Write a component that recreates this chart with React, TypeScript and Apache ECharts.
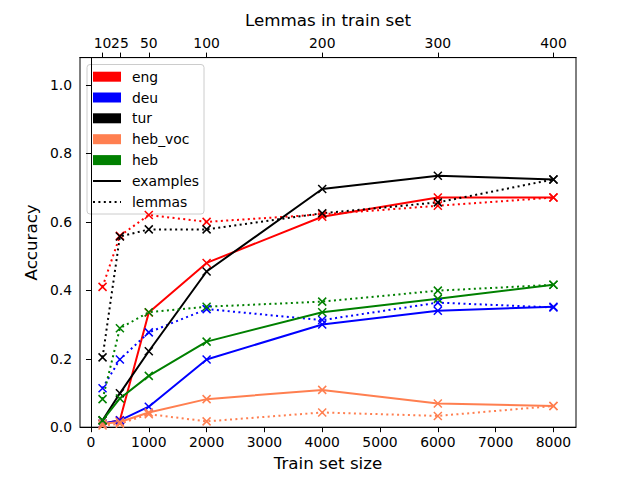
import React, { useEffect, useRef } from "react";
import * as echarts from "echarts";

const trainSizes = [200, 500, 1000, 2000, 4000, 6000, 8000];
const bottomTicks = [0, 1000, 2000, 3000, 4000, 5000, 6000, 7000, 8000];
const lemmaTickLabels = ["10", "25", "50", "100", "200", "300", "400"];
const yTicks = [0, 0.2, 0.4, 0.6, 0.8, 1.0];

const languages = ["eng", "deu", "tur", "heb_voc", "heb"];
const langColors = ["#ff0000", "#0000ff", "#000000", "#ff7f50", "#008000"];

const engExamples = [0.01, 0.02, 0.335, 0.48, 0.615, 0.671, 0.671];
const engLemmas = [0.41, 0.559, 0.62, 0.6, 0.622, 0.647, 0.671];
const deuExamples = [0.01, 0.02, 0.06, 0.198, 0.3, 0.34, 0.352];
const deuLemmas = [0.114, 0.198, 0.277, 0.345, 0.313, 0.364, 0.35];
const turExamples = [0.02, 0.099, 0.222, 0.455, 0.696, 0.735, 0.724];
const turLemmas = [0.204, 0.557, 0.578, 0.578, 0.625, 0.657, 0.724];
const hebVocExamples = [0.01, 0.015, 0.043, 0.082, 0.109, 0.069, 0.062];
const hebVocLemmas = [0.005, 0.01, 0.038, 0.017, 0.043, 0.033, 0.062];
const hebExamples = [0.02, 0.084, 0.15, 0.25, 0.336, 0.375, 0.416];
const hebLemmas = [0.082, 0.289, 0.336, 0.352, 0.367, 0.399, 0.416];

const examplesByLang = [engExamples, deuExamples, turExamples, hebVocExamples, hebExamples];
const lemmasByLang = [engLemmas, deuLemmas, turLemmas, hebVocLemmas, hebLemmas];

const FONT = "DejaVu Sans";
const X_SYMBOL = "path://M0,0 L10,10 M10,0 L0,10";

function makeSeries(name: string, values: number[], color: string, dotted: boolean) {
  return {
    name,
    type: "line",
    xAxisIndex: 0,
    yAxisIndex: 0,
    data: trainSizes.map((x, i) => [x, values[i]]),
    symbol: X_SYMBOL,
    symbolSize: 8,
    showSymbol: true,
    lineStyle: { color, width: 2, type: dotted ? [2, 3.4] : "solid" },
    itemStyle: { color, borderColor: color, borderWidth: 1.5 },
    emphasis: { disabled: true },
  };
}

export default function App() {
  const ref = useRef<HTMLDivElement>(null);
  useEffect(() => {
    if (!ref.current) return;
    const chart = echarts.init(ref.current, null, { renderer: "svg" });
    const series: any[] = [];
    languages.forEach((lang, i) => {
      series.push(makeSeries(lang + " examples", examplesByLang[i], langColors[i], false));
      series.push(makeSeries(lang + " lemmas", lemmasByLang[i], langColors[i], true));
    });

    const legendItems: any[] = [];
    const lx = 93;
    const rowY = [76.7, 97.5, 118.3, 139.2, 160.1, 181, 201.9];
    languages.forEach((lang, i) => {
      legendItems.push({
        type: "rect",
        shape: { x: lx, y: rowY[i] - 5, width: 28, height: 10 },
        style: { fill: langColors[i] },
      });
      legendItems.push({
        type: "text",
        x: 132,
        y: rowY[i],
        style: { text: lang, fill: "#000", font: `13.9px "${FONT}"`, verticalAlign: "middle" },
      });
    });
    ["examples", "lemmas"].forEach((label, j) => {
      const y = rowY[5 + j];
      legendItems.push({
        type: "line",
        shape: { x1: lx, y1: y, x2: lx + 28, y2: y },
        style: { stroke: "#000", lineWidth: 2, lineDash: j === 1 ? [2, 3.4] : null },
      });
      legendItems.push({
        type: "text",
        x: 132,
        y,
        style: { text: label, fill: "#000", font: `13.9px "${FONT}"`, verticalAlign: "middle" },
      });
    });

    const axisCommon = {
      type: "value",
      min: -190,
      max: 8390,
      axisLine: { show: true, lineStyle: { color: "#000", width: 1 } },
      splitLine: { show: false },
    };

    // split top ticks into two axes so neighbouring labels (10, 25) are both drawn
    const topA = trainSizes.filter((_, i) => i % 2 === 0);
    const topB = trainSizes.filter((_, i) => i % 2 === 1);
    const topLabel = (v: number) => {
      const idx = trainSizes.indexOf(v);
      return idx >= 0 ? lemmaTickLabels[idx] : "";
    };
    const topAxis = (vals: number[], withName: boolean) => ({
      ...axisCommon,
      position: "top",
      name: withName ? "Lemmas in train set" : "",
      nameLocation: "middle",
      nameGap: 29,
      nameTextStyle: { fontSize: 16.7, color: "#000", fontFamily: FONT },
      axisTick: { show: true, inside: false, length: 5, lineStyle: { color: "#000" }, customValues: vals },
      axisLabel: {
        color: "#000",
        fontSize: 13.9,
        fontFamily: FONT,
        margin: 8,
        interval: 0,
        hideOverlap: false,
        showMinLabel: true,
        showMaxLabel: true,
        customValues: vals,
        formatter: topLabel,
      },
    });

    chart.setOption({
      animation: false,
      backgroundColor: "#fff",
      textStyle: { fontFamily: FONT },
      grid: {
        left: 80,
        right: 64,
        top: 57.6,
        bottom: 52.8,
        show: true,
        borderColor: "#000",
        borderWidth: 1,
        backgroundColor: "transparent",
      },
      xAxis: [
        {
          ...axisCommon,
          position: "bottom",
          name: "Train set size",
          nameLocation: "middle",
          nameGap: 26,
          nameTextStyle: { fontSize: 16.7, color: "#000", fontFamily: FONT },
          axisTick: { show: true, inside: false, length: 5, lineStyle: { color: "#000" }, customValues: bottomTicks },
          axisLabel: {
            color: "#000",
            fontSize: 13.9,
            fontFamily: FONT,
            margin: 8,
            interval: 0,
            hideOverlap: false,
            customValues: bottomTicks,
            formatter: (v: number) => String(v),
          },
        },
        topAxis(topA, true),
        topAxis(topB, false),
      ],
      yAxis: {
        type: "value",
        min: 0,
        max: 1.08,
        name: "Accuracy",
        nameLocation: "middle",
        nameGap: 38,
        nameTextStyle: { fontSize: 16.7, color: "#000", fontFamily: FONT },
        axisLine: { show: true, lineStyle: { color: "#000", width: 1 } },
        splitLine: { show: false },
        axisTick: { show: true, inside: false, length: 5, lineStyle: { color: "#000" }, customValues: yTicks },
        axisLabel: {
          color: "#000",
          fontSize: 13.9,
          fontFamily: FONT,
          margin: 8,
          customValues: yTicks,
          formatter: (v: number) => v.toFixed(1),
        },
      },
      series,
      graphic: [
        {
          type: "group",
          z: 100,
          children: [
            {
              type: "rect",
              shape: { x: 87, y: 64.5, width: 117, height: 149.5, r: 3 },
              style: { fill: "rgba(255,255,255,0.8)", stroke: "#cccccc", lineWidth: 1 },
            },
            ...legendItems,
          ],
        },
      ],
    });
    return () => chart.dispose();
  }, []);
  return <div ref={ref} style={{ position: "fixed", left: 0, top: 0, width: 640, height: 480 }} />;
}
